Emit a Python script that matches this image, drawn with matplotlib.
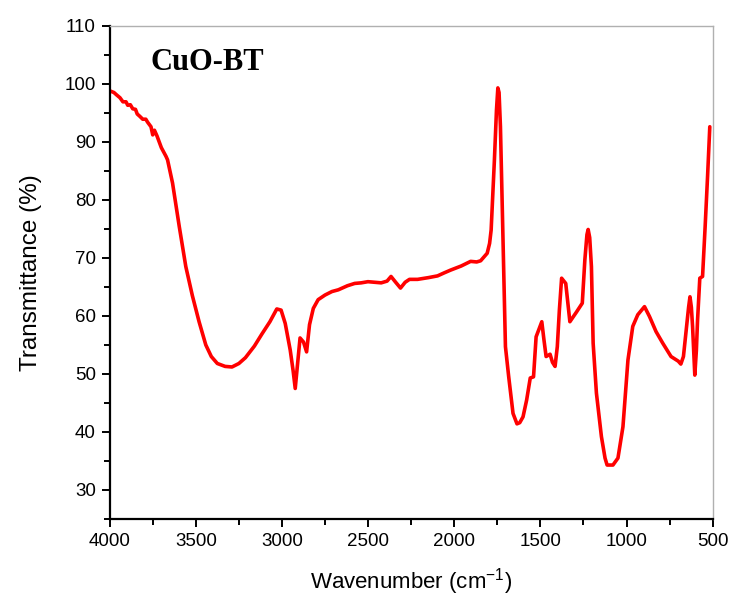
import matplotlib
matplotlib.use("Agg")
from matplotlib import pyplot as plt
from matplotlib.ticker import MultipleLocator

# FTIR spectrum of CuO-BT
wavenumber = [4000, 3975, 3960, 3940, 3923, 3905, 3895, 3880, 3866, 3850, 3840, 3825,
              3808, 3790, 3780, 3760, 3750, 3740, 3725, 3700,
              3673, 3664, 3635, 3596, 3558, 3520, 3481, 3442, 3410, 3375, 3330, 3290,
              3250, 3212, 3160, 3116, 3070, 3030, 3005, 2981, 2952, 2935, 2923, 2910,
              2895, 2875, 2857, 2840, 2818, 2790, 2750, 2710, 2673, 2620, 2578, 2540,
              2501, 2460, 2424, 2390, 2367, 2340, 2312, 2285, 2260, 2213, 2150, 2097,
              2060, 2021, 1960, 1905, 1870, 1847, 1809, 1795, 1786, 1767, 1755, 1747,
              1740, 1732, 1717, 1703, 1684, 1659, 1636, 1620, 1601, 1580, 1559, 1540,
              1525, 1505, 1492, 1480, 1467, 1444, 1430, 1415, 1402, 1390, 1377, 1353,
              1340, 1329, 1290, 1257, 1242, 1230, 1223, 1214, 1204, 1194, 1175, 1146,
              1125, 1113, 1079, 1050, 1021, 992, 964, 935, 896, 867, 829, 790,
              742, 700, 685, 670, 656, 640, 632, 624, 617, 604, 595, 588,
              575, 559, 544, 530, 517]
transmittance = [98.8, 98.5, 98.1, 97.6, 96.9, 96.9, 96.3, 96.4, 95.7, 95.6, 94.8, 94.4,
                 93.9, 93.9, 93.4, 92.6, 91.2, 92.0, 91.0, 89.0,
                 87.5, 86.9, 82.9, 75.4, 68.5, 63.5, 59.0, 55.0, 53.0, 51.8, 51.3, 51.2,
                 51.8, 52.8, 54.8, 56.9, 59.0, 61.2, 61.0, 58.7, 54.1, 50.5, 47.5, 51.5,
                 56.2, 55.5, 53.8, 58.5, 61.3, 62.8, 63.6, 64.2, 64.5, 65.2, 65.6, 65.7,
                 65.9, 65.8, 65.7, 66.0, 66.8, 65.8, 64.8, 65.8, 66.3, 66.3, 66.6, 66.9,
                 67.4, 67.9, 68.6, 69.4, 69.3, 69.5, 70.8, 72.5, 74.8, 86.9, 95.5, 99.3,
                 98.5, 92.6, 73.1, 54.7, 49.5, 43.2, 41.4, 41.6, 42.6, 45.5, 49.3, 49.5,
                 56.4, 58.0, 59.0, 56.0, 53.0, 53.4, 52.0, 51.3, 54.7, 61.0, 66.5, 65.6,
                 62.0, 59.0, 60.7, 62.2, 69.7, 74.0, 74.9, 73.5, 68.5, 55.3, 46.7, 39.2,
                 35.5, 34.3, 34.3, 35.5, 40.9, 52.4, 58.2, 60.2, 61.6, 59.9, 57.3, 55.3,
                 53.0, 52.2, 51.7, 53.0, 57.0, 61.5, 63.3, 61.5, 58.2, 49.8, 54.0, 59.3,
                 66.5, 66.8, 75.4, 84.0, 92.6]

plt.rcParams['font.family'] = ['Liberation Sans', 'DejaVu Sans']

fig = plt.figure(figsize=(7.31, 6), dpi=100)
ax = fig.add_axes([0.150, 0.135, 0.825, 0.822])

ax.plot(wavenumber, transmittance, color='red', lw=2.6,
        solid_joinstyle='round', solid_capstyle='round')

ax.set_xlim(4000, 500)
ax.set_ylim(25, 110)
ax.xaxis.set_major_locator(MultipleLocator(500))
ax.xaxis.set_minor_locator(MultipleLocator(250))
ax.yaxis.set_major_locator(MultipleLocator(10))
ax.yaxis.set_minor_locator(MultipleLocator(5))
ax.set_yticks(range(30, 111, 10))

ax.tick_params(which='major', direction='out', length=6, width=1.4, labelsize=13.5, pad=4)
ax.tick_params(which='minor', direction='out', length=4, width=1.4)
ax.tick_params(top=False, right=False, which='both')

for s in ['left', 'bottom']:
    ax.spines[s].set_linewidth(1.6)
    ax.spines[s].set_color('black')
for s in ['top', 'right']:
    ax.spines[s].set_linewidth(1.0)
    ax.spines[s].set_color('#b0b0b0')

ax.set_xlabel("Wavenumber (cm$^{\\mathregular{-1}}$)", fontsize=16, labelpad=12)
ax.set_ylabel("Transmittance (%)", fontsize=17.5, labelpad=16)

ax.text(0.067, 0.955, "CuO-BT", transform=ax.transAxes, fontsize=22,
        fontweight='bold', family=['Liberation Serif', 'DejaVu Serif'],
        va='top', ha='left')

fig.savefig("out.png", dpi=100)
